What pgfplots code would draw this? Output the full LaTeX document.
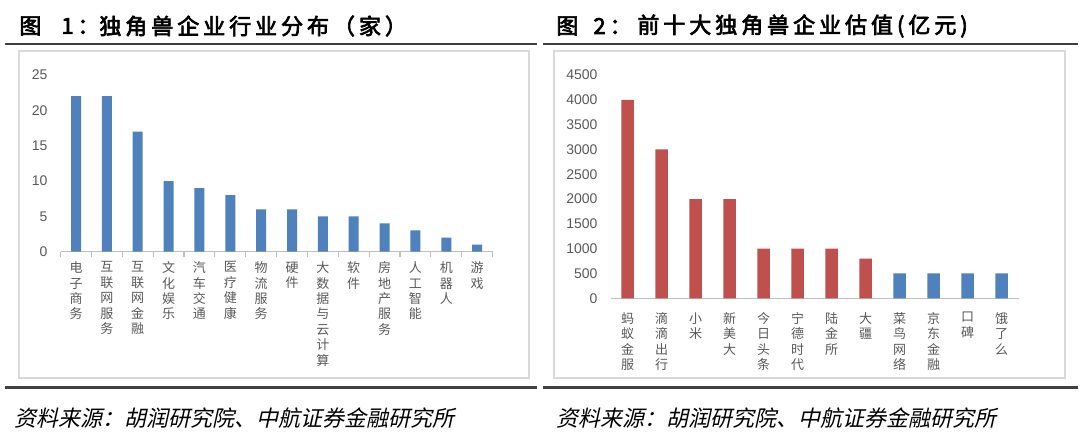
\documentclass[border=0pt]{standalone}
\usepackage{fontspec}
\setmainfont{Liberation Sans}
\newfontfamily\cjk{Noto Sans CJK SC}
\newfontfamily\cjkt[FakeBold=3,LetterSpace=18]{Noto Sans CJK SC}
\newfontfamily\cjkit[FakeSlant=0.22]{Noto Sans CJK SC}
\usepackage{pgfplots}
\pgfplotsset{compat=1.18}
\definecolor{barblue}{HTML}{4F81BD}
\definecolor{barred}{HTML}{C0504D}
\definecolor{ticktext}{HTML}{595959}
\definecolor{axgray}{HTML}{BFBFBF}
\definecolor{framegray}{HTML}{D9D9D9}
\definecolor{rulegray}{HTML}{404040}
\pgfplotsset{
  mybars/.style={
    scale only axis,
    anchor=south west,
    ymin=0,
    axis x line*=bottom,
    axis y line*=left,
    y axis line style={draw=none},
    x axis line style={draw=axgray, line width=0.6pt},
    major tick length=0pt,
    /pgf/number format/assume math mode=true,
    /pgf/number format/1000 sep={},
    yticklabel style={font=\fontsize{7}{8}\selectfont, text=ticktext, xshift=-3pt},
    xticklabel style={font=\cjk\fontsize{6.5}{7.7}\selectfont, text=ticktext, align=center, anchor=north, yshift=-1.5pt},
    xtick={0,...,13},
    clip=false,
  }
}
\begin{document}
\begin{tikzpicture}
\path[fill=white] (0pt,0pt) rectangle (540pt,222pt);
% titles
\begin{scope}[every node/.style={anchor=west, inner sep=0, font=\cjkt\fontsize{11}{13}\selectfont}]
\node at (9.5pt,209pt) {图};
\node at (30.5pt,209pt) {1：};
\node at (49.5pt,209pt) {独角兽企业行业分布（家）};
\node at (278pt,209pt) {图};
\node at (296.5pt,209pt) {2：};
\node at (318.5pt,209pt) {前十大独角兽企业估值(亿元)};
\end{scope}
% rules
\draw[rulegray, line width=1pt] (2.5pt,200pt) -- (268.5pt,200pt);
\draw[rulegray, line width=1pt] (271.5pt,200pt) -- (539pt,200pt);
\draw[framegray, line width=0.8pt] (9.5pt,196.5pt) rectangle (264.5pt,33pt);
\draw[framegray, line width=0.8pt] (277pt,196.5pt) rectangle (532.5pt,33pt);
\draw[rulegray, line width=1.5pt] (2.5pt,28pt) -- (268.5pt,28pt);
\draw[rulegray, line width=1.5pt] (271.5pt,28pt) -- (539pt,28pt);
% footers
\node[anchor=west, inner sep=0, font=\cjkit\fontsize{11}{13}\selectfont] at (7pt,13pt) {资料来源：胡润研究院、中航证券金融研究所};
\node[anchor=west, inner sep=0, font=\cjkit\fontsize{11}{13}\selectfont] at (278pt,13pt) {资料来源：胡润研究院、中航证券金融研究所};

% left chart
\begin{axis}[mybars,
  at={(30.3pt,96.15pt)},
  width=216pt, height=88.35pt,
  xmin=-0.5, xmax=13.5, ymax=25,
  ytick={0,5,10,15,20,25},
  xticklabels={{电\\子\\商\\务},{互\\联\\网\\服\\务},{互\\联\\网\\金\\融},{文\\化\\娱\\乐},{汽\\车\\交\\通},{医\\疗\\健\\康},{物\\流\\服\\务},{硬\\件},{大\\数\\据\\与\\云\\计\\算},{软\\件},{房\\地\\产\\服\\务},{人\\工\\智\\能},{机\\器\\人},{游\\戏}},
  extra x ticks={-0.5,0.5,...,13.5},
  extra x tick labels={},
  extra x tick style={major tick length=2.5pt, tick align=outside, tick style={draw=axgray, line width=0.6pt}},
]
\addplot[ybar, bar shift=0pt, bar width=5pt, fill=barblue, draw=none] coordinates {
(0,22) (1,22) (2,17) (3,10) (4,9) (5,8) (6,6) (7,6) (8,5) (9,5) (10,4) (11,3) (12,2) (13,1)};
\end{axis}

% right chart
\begin{axis}[mybars,
  at={(305.25pt,72.85pt)},
  width=204pt, height=111.65pt,
  xmin=-0.5, xmax=11.5, ymax=4500,
  ytick={0,500,...,4500},
  xtick={0,...,11},
  xticklabels={{蚂\\蚁\\金\\服},{滴\\滴\\出\\行},{小\\米},{新\\美\\大},{今\\日\\头\\条},{宁\\德\\时\\代},{陆\\金\\所},{大\\疆},{菜\\鸟\\网\\络},{京\\东\\金\\融},{口\\碑},{饿\\了\\么}},
  xticklabel style={yshift=-2pt},
]
\addplot[ybar, bar shift=0pt, bar width=6.25pt, fill=barred, draw=none] coordinates {
(0,4000) (1,3000) (2,2000) (3,2000) (4,1000) (5,1000) (6,1000) (7,800)};
\addplot[ybar, bar shift=0pt, bar width=6.25pt, fill=barblue, draw=none] coordinates {
(8,500) (9,500) (10,500) (11,500)};
\end{axis}
\end{tikzpicture}
\end{document}
